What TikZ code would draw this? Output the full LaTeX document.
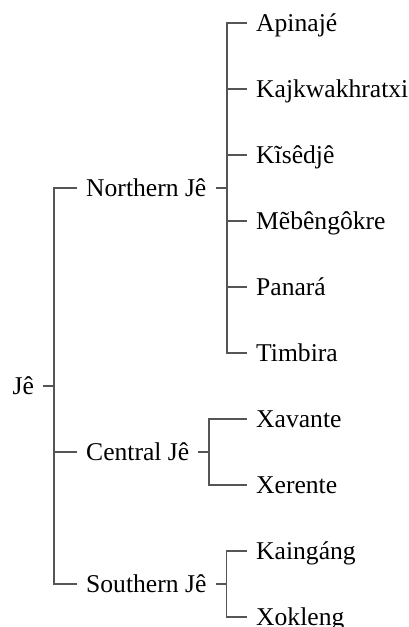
\documentclass[tikz,border=0pt]{standalone}
\usepackage{fontspec}
\setmainfont{Liberation Serif}
\definecolor{linegray}{HTML}{555555}
\begin{document}
\begin{tikzpicture}[x=1pt,y=-1pt,
  lbl/.style={anchor=west, inner sep=0pt, text height=16.9pt, text depth=0pt, font=\fontsize{25.6}{30}\selectfont},
  branch/.style={draw=linegray, line width=1.1pt}]
\useasboundingbox (0,0) rectangle (408,627);
% labels
\node[lbl] (je) at (12.5,386) {Jê};
\node[lbl] (nj) at (86,188) {Northern Jê};
\node[lbl] (cj) at (86,452) {Central Jê};
\node[lbl] (sj) at (86,584) {Southern Jê};
\node[lbl] (l1) at (256,23) {Apinajé};
\node[lbl] (l2) at (256,89) {Kajkwakhratxi};
\node[lbl] (l3) at (256,155) {Kĩsêdjê};
\node[lbl] (l4) at (256,221) {Mẽbêngôkre};
\node[lbl] (l5) at (256,287) {Panará};
\node[lbl] (l6) at (256,353) {Timbira};
\node[lbl] (l7) at (256,419) {Xavante};
\node[lbl] (l8) at (256,485) {Xerente};
\node[lbl] (l9) at (256,551) {Kaingáng};
\node[lbl] (l10) at (256,617) {Xokleng};
% vertical bars
\coordinate (vje) at (54,386);
\coordinate (vnj) at (227,188);
\coordinate (vcj) at (209,452);
\coordinate (vsj) at (226.5,584);
% Jê
\draw[branch] ([xshift=9pt]je.east) -- (vje);
\draw[branch] ([xshift=-9.5pt]nj.west) -| (vje) |- ([xshift=-9.5pt]sj.west);
\draw[branch] ([xshift=-9.5pt]cj.west) -- (vje |- cj.west);
% Northern
\draw[branch] ([xshift=9pt]nj.east) -- (vnj);
\draw[branch] ([xshift=-9.5pt]l1.west) -| (vnj) |- ([xshift=-9.5pt]l6.west);
\foreach \c in {l2,l3,l4,l5}
  \draw[branch] ([xshift=-9.5pt]\c.west) -- (vnj |- \c.west);
% Central
\draw[branch] ([xshift=9pt]cj.east) -- (vcj);
\draw[branch] ([xshift=-9.5pt]l7.west) -| (vcj) |- ([xshift=-9.5pt]l8.west);
% Southern
\draw[branch] ([xshift=9pt]sj.east) -- (vsj);
\draw[branch] ([xshift=-9.5pt]l9.west) -| (vsj) |- ([xshift=-9.5pt]l10.west);
\end{tikzpicture}
\end{document}
